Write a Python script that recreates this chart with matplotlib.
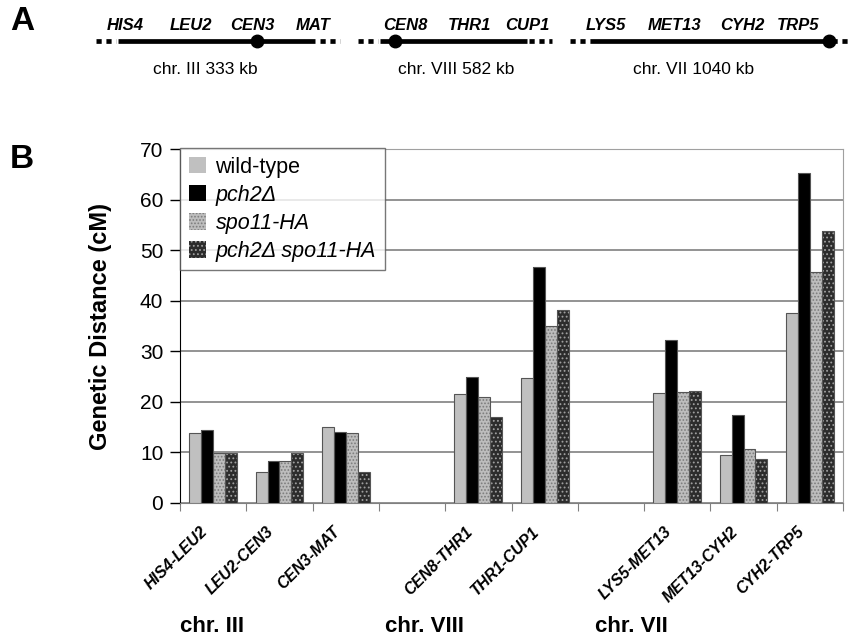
import matplotlib.pyplot as plt
import numpy as np

plt.rcParams['font.family'] = ['Liberation Sans', 'DejaVu Sans']
plt.rcParams['hatch.linewidth'] = 0.8

# Genetic intervals (empty strings are the gaps between chromosomes)
intervals = ['HIS4-LEU2', 'LEU2-CEN3', 'CEN3-MAT', '',
             'CEN8-THR1', 'THR1-CUP1', '',
             'LYS5-MET13', 'MET13-CYH2', 'CYH2-TRP5']
wild_type = [13.9, 6.2, 15.0, None, 21.5, 24.7, None, 21.7, 9.5, 37.5]
pch2 = [14.5, 8.3, 14.0, None, 25.0, 46.7, None, 32.2, 17.5, 65.3]
spo11 = [9.8, 8.3, 13.9, None, 21.0, 35.0, None, 21.9, 10.6, 45.6]
pch2_spo11 = [9.8, 9.9, 6.1, None, 17.1, 38.2, None, 22.1, 8.7, 53.7]

series = [wild_type, pch2, spo11, pch2_spo11]
legend_labels = ['wild-type', 'pch2\u0394', 'spo11-HA', 'pch2\u0394 spo11-HA']
faces = ['#c0c0c0', '#000000', '#bdbdbd', '#2c2c2c']
hatch_cols = ['#c0c0c0', '#000000', '#7c7c7c', '#a0a0a0']
hatches = [None, None, '.....', '....']
chr_groups = ['chr. III', 'chr. VIII', 'chr. VII']

# panel A: chromosome maps
chroms = [
    {'name': 'chr. III 333 kb', 'genes': ['HIS4', 'LEU2', 'CEN3', 'MAT']},
    {'name': 'chr. VIII 582 kb', 'genes': ['CEN8', 'THR1', 'CUP1']},
    {'name': 'chr. VII 1040 kb', 'genes': ['LYS5', 'MET13', 'CYH2', 'TRP5']},
]
gene_x = [[125, 191, 252, 313], [405, 470, 527], [606, 675, 742, 798]]
solid = [(118, 315), (380, 527), (590, 830)]
dashed = [[(96, 116), (320, 340)], [(358, 378), (529, 552)], [(570, 590), (832, 852)]]
centromere = [257, 395, 829]
name_x = [205, 456, 694]

fig = plt.figure(figsize=(8.52, 6.4), dpi=100)

ax_a = fig.add_axes([0, 0, 1, 1])
ax_a.set_xlim(0, 852)
ax_a.set_ylim(640, 0)
ax_a.axis('off')
ax_a.text(10, 22, 'A', fontsize=24, fontweight='bold', va='center', ha='left')
ax_a.text(10, 159, 'B', fontsize=24, fontweight='bold', va='center', ha='left')
for k, c in enumerate(chroms):
    ax_a.plot(solid[k], [40.5, 40.5], color='black', lw=3.4, solid_capstyle='butt')
    for seg in dashed[k]:
        ax_a.plot(seg, [40.5, 40.5], color='black', lw=3.4, dashes=(1.1, 1.0))
    ax_a.plot(centromere[k], 40.5, 'o', color='black', ms=9)
    for g, gx in zip(c['genes'], gene_x[k]):
        ax_a.text(gx, 25, g, fontsize=12, fontweight='bold', fontstyle='italic',
                  ha='center', va='center')
    ax_a.text(name_x[k], 69, c['name'], fontsize=12.5, ha='center', va='center')

# panel B: bar chart
ax = fig.add_axes([180 / 852, 137 / 640, 663 / 852, 354 / 640])
x = np.arange(len(intervals))
w = 0.18
for i, vals in enumerate(series):
    h = np.array([np.nan if v is None else v for v in vals], dtype=float)
    pos = x + (i - 1.5) * w
    ax.bar(pos, h, w, color=faces[i], edgecolor=hatch_cols[i], hatch=hatches[i],
           linewidth=0, label=legend_labels[i], zorder=3)
    ax.bar(pos, h, w, fill=False, edgecolor='#555555', linewidth=0.8, zorder=4)

ax.set_ylim(0, 70)
ax.set_xlim(-0.5, len(intervals) - 0.5)
ax.set_yticks(range(0, 71, 10))
ax.tick_params(axis='y', labelsize=15, length=7, pad=5, direction='out', width=1)
ax.yaxis.grid(True, color='#808080', linewidth=1.2, zorder=0)
ax.set_ylabel('Genetic Distance (cM)', fontsize=17, fontweight='bold')
ax.yaxis.set_label_coords(-0.103, 0.5)

ax.set_xticks(np.arange(-0.5, len(intervals), 1.0))
ax.set_xticklabels([])
ax.tick_params(axis='x', length=6, color='#808080')
for xi, lab in zip(x, intervals):
    if lab:
        ax.text(xi - 0.12, -5.2, lab, rotation=45, rotation_mode='anchor',
                ha='right', va='center', fontsize=11.5, fontweight='bold',
                fontstyle='italic')

for s in ['top', 'right']:
    ax.spines[s].set_color('#a0a0a0')
ax.spines['bottom'].set_color('#808080')
ax.spines['left'].set_color('black')

for lab, cx in zip(chr_groups, [212, 424, 631]):
    ax_a.text(cx, 627, lab, fontsize=16, fontweight='bold', ha='center', va='center')

leg = ax.legend(loc='upper left', bbox_to_anchor=(0.0, 1.003), fontsize=15.5,
                frameon=True, fancybox=False, edgecolor='#555555',
                handlelength=0.8, handleheight=0.8, handletextpad=0.45,
                labelspacing=0.33, borderpad=0.4, borderaxespad=0)
leg.get_frame().set_linewidth(1)
for t in leg.get_texts()[1:]:
    t.set_fontstyle('italic')
leg.set_zorder(10)

fig.savefig('out.png', dpi=100)
